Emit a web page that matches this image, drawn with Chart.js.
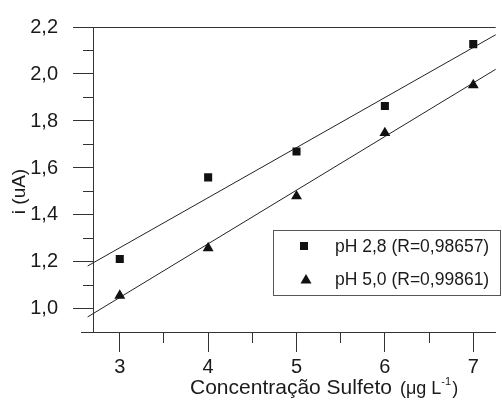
<!DOCTYPE html>
<html>
<head>
<meta charset="utf-8">
<script src="https://cdn.jsdelivr.net/npm/chart.js@4"></script>
<style>
  html, body { margin: 0; padding: 0; background: #fff; }
  #caixa { width: 502px; height: 404px; }
</style>
</head>
<body>
<div id="caixa"><canvas id="graficoSulfeto"></canvas></div>
<script>
// dados
const concentracao = [3, 4, 5, 6, 7];
const correntePh28 = [1.213, 1.560, 1.670, 1.864, 2.127];
const correntePh50 = [1.057, 1.259, 1.480, 1.749, 1.953];
// retas de ajuste (extremos)
const ajusteX = [2.636, 7.254];
const ajustePh28 = [1.183, 2.167];
const ajustePh50 = [0.966, 2.020];
const legendas = ["pH 2,8 (R=0,98657)", "pH 5,0 (R=0,99861)"];
const tituloX = "Concentração Sulfeto";
const tituloY = "i (uA)";
// marcas dos eixos (maiores com rótulo, menores sem)
const ticksX = [3, 3.5, 4, 4.5, 5, 5.5, 6, 6.5, 7];
const ticksY = [1.0, 1.1, 1.2, 1.3, 1.4, 1.5, 1.6, 1.7, 1.8, 1.9, 2.0, 2.1, 2.2];

const fonte = "Arial, 'Liberation Sans', sans-serif";
const corTexto = "#1a1a1a";
const corEixo = "#333";

const pontos = (xs, ys) => xs.map((x, i) => ({ x, y: ys[i] }));

// minor ticks: meia altura via tracejado
const ehMenor = (v, passo) => Math.abs(Math.round(v / passo) % 2) === 1;

// eixo superior, legenda e títulos
const extras = {
  id: "extras",
  afterDraw(chart) {
    const ctx = chart.ctx;
    const a = chart.chartArea;
    ctx.save();
    ctx.strokeStyle = corEixo;
    ctx.lineWidth = 1;
    ctx.beginPath();
    ctx.moveTo(a.left, a.top + 0.5);
    ctx.lineTo(a.right, a.top + 0.5);
    ctx.moveTo(a.left - 12, a.bottom + 0.5);
    ctx.lineTo(a.left, a.bottom + 0.5);
    ctx.stroke();

    // legenda
    ctx.fillStyle = "#fff";
    ctx.fillRect(273.5, 230.5, 227, 65);
    ctx.strokeStyle = "#555";
    ctx.strokeRect(273.5, 230.5, 227, 65);
    ctx.fillStyle = "#111";
    ctx.fillRect(300, 242, 8, 8);
    ctx.beginPath();
    ctx.moveTo(306, 274);
    ctx.lineTo(311.5, 283.5);
    ctx.lineTo(300.5, 283.5);
    ctx.closePath();
    ctx.fill();
    ctx.fillStyle = corTexto;
    ctx.font = "17.5px " + fonte;
    ctx.textBaseline = "middle";
    ctx.textAlign = "left";
    ctx.fillText(legendas[0], 335, 247);
    ctx.fillText(legendas[1], 335, 280);

    // título eixo x
    ctx.textBaseline = "alphabetic";
    ctx.font = "21px " + fonte;
    let x = 190;
    const yb = 394;
    ctx.fillText(tituloX, x, yb);
    x += ctx.measureText(tituloX).width + 8;
    ctx.font = "18px " + fonte;
    ctx.fillText("(\u03bcg L", x, yb);
    x += ctx.measureText("(\u03bcg L").width;
    ctx.font = "11px " + fonte;
    ctx.fillText("-1", x, yb - 9);
    x += ctx.measureText("-1").width;
    ctx.font = "18px " + fonte;
    ctx.fillText(")", x + 1, yb);

    // título eixo y
    ctx.translate(20, 191.5);
    ctx.rotate(-Math.PI / 2);
    ctx.font = "19px " + fonte;
    ctx.textAlign = "center";
    ctx.textBaseline = "middle";
    ctx.fillText(tituloY, 0, 0);
    ctx.restore();
  }
};

new Chart(document.getElementById("graficoSulfeto"), {
  type: "scatter",
  data: {
    datasets: [
      {
        label: legendas[0],
        data: pontos(concentracao, correntePh28),
        pointStyle: "rect",
        pointRadius: 5.7,
        pointBackgroundColor: "#111",
        pointBorderWidth: 0,
        showLine: false
      },
      {
        label: legendas[1],
        data: pontos(concentracao, correntePh50),
        pointStyle: "triangle",
        pointRadius: 6.3,
        pointBackgroundColor: "#111",
        pointBorderWidth: 0,
        showLine: false
      },
      {
        label: "ajuste 2,8",
        data: pontos(ajusteX, ajustePh28),
        showLine: true,
        pointRadius: 0,
        borderColor: "#222",
        borderWidth: 1,
        clip: false
      },
      {
        label: "ajuste 5,0",
        data: pontos(ajusteX, ajustePh50),
        showLine: true,
        pointRadius: 0,
        borderColor: "#222",
        borderWidth: 1,
        clip: false
      }
    ]
  },
  options: {
    responsive: true,
    maintainAspectRatio: false,
    animation: false,
    events: [],
    layout: { padding: { top: 23, left: 0, right: 0, bottom: 0 } },
    plugins: { legend: { display: false }, tooltip: { enabled: false } },
    scales: {
      x: {
        type: "linear",
        min: 2.697,
        max: 7.254,
        bounds: "data",
        afterBuildTicks: s => { s.ticks = ticksX.map(v => ({ value: v })); },
        afterFit: s => { s.height = 72; },
        border: { display: true, color: corEixo, width: 1 },
        grid: {
          drawOnChartArea: false,
          tickLength: 20,
          tickColor: corEixo,
          tickBorderDash: c => ehMenor(c.tick.value, 0.5) ? [10, 10] : [],
          tickBorderDashOffset: 0
        },
        ticks: {
          autoSkip: false,
          maxRotation: 0,
          padding: 3,
          color: corTexto,
          font: { family: fonte, size: 20 },
          callback: v => ehMenor(v, 0.5) ? "" : String(v)
        }
      },
      y: {
        type: "linear",
        min: 0.902,
        max: 2.2,
        bounds: "data",
        afterBuildTicks: s => { s.ticks = ticksY.map(v => ({ value: v })); },
        afterFit: s => { s.width = 93; },
        border: { display: true, color: corEixo, width: 1 },
        grid: {
          drawOnChartArea: false,
          tickLength: 20,
          tickColor: corEixo,
          tickBorderDash: c => ehMenor(c.tick.value, 0.1) ? [10, 10] : [],
          tickBorderDashOffset: c => ehMenor(c.tick.value, 0.1) ? 10 : 0
        },
        ticks: {
          autoSkip: false,
          padding: 15,
          color: corTexto,
          font: { family: fonte, size: 20 },
          callback: v => ehMenor(v, 0.1) ? "" : v.toFixed(1).replace(".", ",")
        }
      }
    }
  },
  plugins: [extras]
});
</script>
</body>
</html>
